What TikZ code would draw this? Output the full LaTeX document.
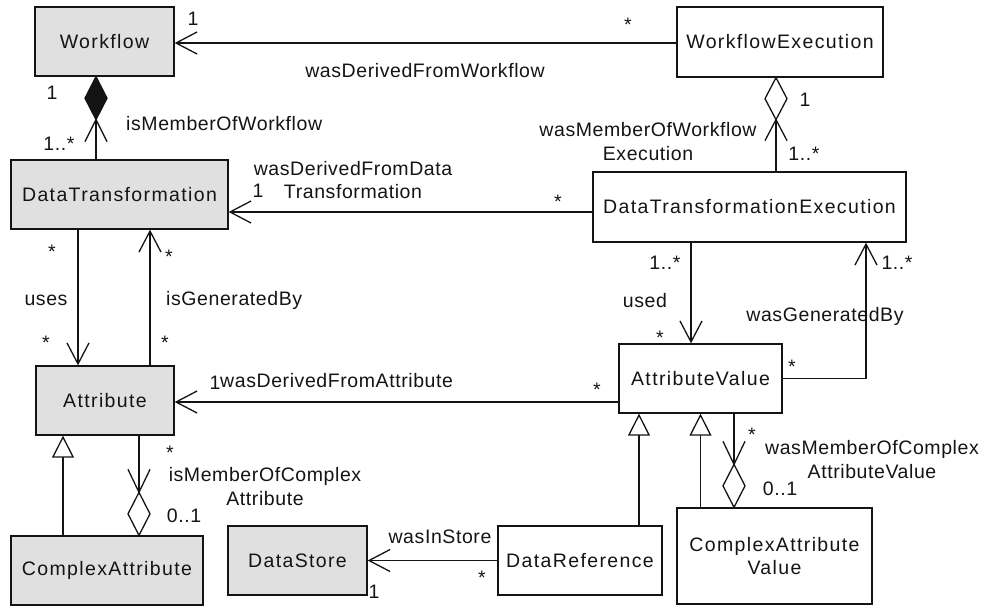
\documentclass[tikz,border=0pt]{standalone}
\usepackage{fontspec}
\setmainfont{Liberation Sans}
\newfontfamily\nodefont[LetterSpace=7]{Liberation Sans}
\newfontfamily\labfont[LetterSpace=3]{Liberation Sans}
\usetikzlibrary{arrows.meta}
\definecolor{boxgray}{RGB}{224,224,224}
\definecolor{ink}{RGB}{20,20,20}
\begin{document}
\begin{tikzpicture}[x=1pt,y=-1pt,
  cls/.style={draw=ink, line width=1.3pt, inner sep=0pt, font=\nodefont\fontsize{19.5}{23.5}\selectfont, text=ink, align=center},
  gcls/.style={cls, fill=boxgray},
  wcls/.style={cls, fill=white},
  lab/.style={inner sep=0pt, anchor=base, font=\labfont\fontsize{19.5}{23.5}\selectfont, text=ink, align=center},
  conn/.style={draw=ink, line width=1.3pt},
  nav/.style={conn, -{Straight Barb[length=21pt,width=22pt,line width=1.3pt]}},
  gen/.style={conn, -{Triangle[open,length=22pt,width=22pt,line width=1.3pt,fill=white]}},
]
\useasboundingbox (0,0) rectangle (982,606);

% classes
\node[gcls, minimum width=139pt, minimum height=69pt] (wf)  at (104.5,41.5) {Workflow};
\node[wcls, minimum width=206pt, minimum height=70pt] (wfe) at (780,42) {WorkflowExecution};
\node[gcls, minimum width=217pt, minimum height=69pt] (dt)  at (119.5,194.5) {DataTransformation};
\node[wcls, minimum width=313pt, minimum height=70pt] (dte) at (749.5,207) {DataTransformationExecution};
\node[gcls, minimum width=138pt, minimum height=69pt] (at)  at (105,400.5) {Attribute};
\node[wcls, minimum width=163pt, minimum height=69pt] (av)  at (700.5,378.5) {AttributeValue};
\node[gcls, minimum width=192pt, minimum height=69pt] (ca)  at (107,570.5) {ComplexAttribute};
\node[gcls, minimum width=139pt, minimum height=69pt] (ds)  at (297.5,560.5) {DataStore};
\node[wcls, minimum width=164pt, minimum height=69pt] (dr)  at (580,560.5) {DataReference};
\node[wcls, minimum width=195pt, minimum height=96pt] (cav) at (774.5,556) {ComplexAttribute\\Value};

% wasDerivedFromWorkflow
\coordinate (p1) at ([yshift=-1pt]wfe.west);
\draw[nav] (p1) -- (p1 -| wf.east);

% isMemberOfWorkflow (composition)
\coordinate (p2) at ([xshift=-8.5pt]wf.south);
\draw[conn] (p2 |- dt.north) -- (p2);
\draw[conn, fill=ink] (p2) -- ++(11,21.5) -- ++(-11,21.5) -- ++(-11,-21.5) -- cycle;
\draw[conn] ([shift={(-11,65)}]p2) -- ([shift={(0,43)}]p2) -- ([shift={(11,65)}]p2);

% wasDerivedFromDataTransformation
\coordinate (p3) at ([yshift=-5pt]dte.west);
\draw[nav] (p3) -- (p3 -| dt.east);

% wasMemberOfWorkflowExecution (aggregation)
\coordinate (p4) at ([xshift=-4pt]wfe.south);
\draw[conn] (p4 |- dte.north) -- (p4);
\draw[conn, fill=white] (p4) -- ++(11,21) -- ++(-11,21) -- ++(-11,-21) -- cycle;
\draw[conn] ([shift={(-11,63)}]p4) -- ([shift={(0,42)}]p4) -- ([shift={(11,63)}]p4);

% uses
\coordinate (p5) at ([xshift=-41.5pt]dt.south);
\draw[nav] (p5) -- (p5 |- at.north);
% isGeneratedBy
\coordinate (p6) at ([xshift=45pt]at.north);
\draw[nav] (p6) -- (p6 |- dt.south);

% wasDerivedFromAttribute
\coordinate (p7) at ([yshift=-1.5pt]at.east);
\draw[nav] (p7 -| av.west) -- (p7);

% used
\coordinate (p8) at ([xshift=-9.5pt]av.north);
\draw[nav] (p8 |- dte.south) -- (p8);
% wasGeneratedBy
\coordinate (p9) at ([xshift=116.5pt]dte.south);
\draw[nav] (av.east) -| (p9);

% generalisations to AttributeValue
\coordinate (p10) at ([xshift=-61.5pt]av.south);
\draw[gen] (p10 |- dr.north) -- (p10);
\draw[gen] (av.south |- cav.north) -- (av.south);

% wasMemberOfComplexAttributeValue
\coordinate (p11) at ([xshift=33.5pt]av.south);
\coordinate (p12) at (p11 |- cav.north);
\draw[conn] (p11) -- (p12);
\draw[conn, fill=white] (p12) -- ++(11,-21.5) -- ++(-11,-21.5) -- ++(-11,21.5) -- cycle;
\draw[conn] ([shift={(-11,-66)}]p12) -- ([shift={(0,-43)}]p12) -- ([shift={(11,-66)}]p12);

% generalisation ComplexAttribute -> Attribute
\coordinate (p13) at ([xshift=-42pt]at.south);
\draw[gen] (p13 |- ca.north) -- (p13);

% isMemberOfComplexAttribute
\coordinate (p14) at ([xshift=34pt]at.south);
\coordinate (p15) at (p14 |- ca.north);
\draw[conn] (p14) -- (p15);
\draw[conn, fill=white] (p15) -- ++(11,-21.5) -- ++(-11,-21.5) -- ++(-11,21.5) -- cycle;
\draw[conn] ([shift={(-11,-66)}]p15) -- ([shift={(0,-43)}]p15) -- ([shift={(11,-66)}]p15);

% wasInStore
\draw[nav] (dr.west) -- (dr.west -| ds.east);

% labels
\node[lab] (l1) at (193,25) {1};
\node[lab] (l2) at (628,31) {*};
\node[lab] (l3) at (425,77) {wasDerivedFromWorkflow};
\node[lab] (l4) at (52,99) {1};
\node[lab, anchor=base west] (l5) at (126,130) {isMemberOfWorkflow};
\node[lab] (l6) at (59,150) {1..*};
\node[lab, anchor=center] (l7) at (648,141.5) {wasMemberOfWorkflow\\Execution};
\node[lab] (l8) at (805,106) {1};
\node[lab] (l9) at (804,160) {1..*};
\node[lab, anchor=center] (l10) at (353,180) {wasDerivedFromData\\Transformation};
\node[lab] (l11) at (258,197) {1};
\node[lab] (l12) at (558,208) {*};
\node[lab] (l13) at (52,258) {*};
\node[lab] (l14) at (46,305) {uses};
\node[lab] (l15) at (46,349) {*};
\node[lab] (l16) at (169,263) {*};
\node[lab, anchor=base west] (l17) at (166,305) {isGeneratedBy};
\node[lab] (l18) at (165,349) {*};
\node[lab] (l19) at (665,269) {1..*};
\node[lab] (l20) at (645,307) {used};
\node[lab] (l21) at (660,344) {*};
\node[lab] (l22) at (897,269) {1..*};
\node[lab] (l23) at (825,321) {wasGeneratedBy};
\node[lab] (l24) at (792,373) {*};
\node[lab] (l25) at (215,389) {1};
\node[lab, anchor=base west] (l26) at (220,387) {wasDerivedFromAttribute};
\node[lab] (l27) at (597,396) {*};
\node[lab] (l28) at (170,459) {*};
\node[lab, anchor=center] (l29) at (265,486.5) {isMemberOfComplex\\Attribute};
\node[lab] (l30) at (184,522) {0..1};
\node[lab] (l31) at (752,441) {*};
\node[lab, anchor=center] (l32) at (872,459.5) {wasMemberOfComplex\\AttributeValue};
\node[lab] (l33) at (780,495) {0..1};
\node[lab] (l34) at (440,543) {wasInStore};
\node[lab] (l35) at (482,584) {*};
\node[lab] (l36) at (374,598) {1};
\end{tikzpicture}
\end{document}
